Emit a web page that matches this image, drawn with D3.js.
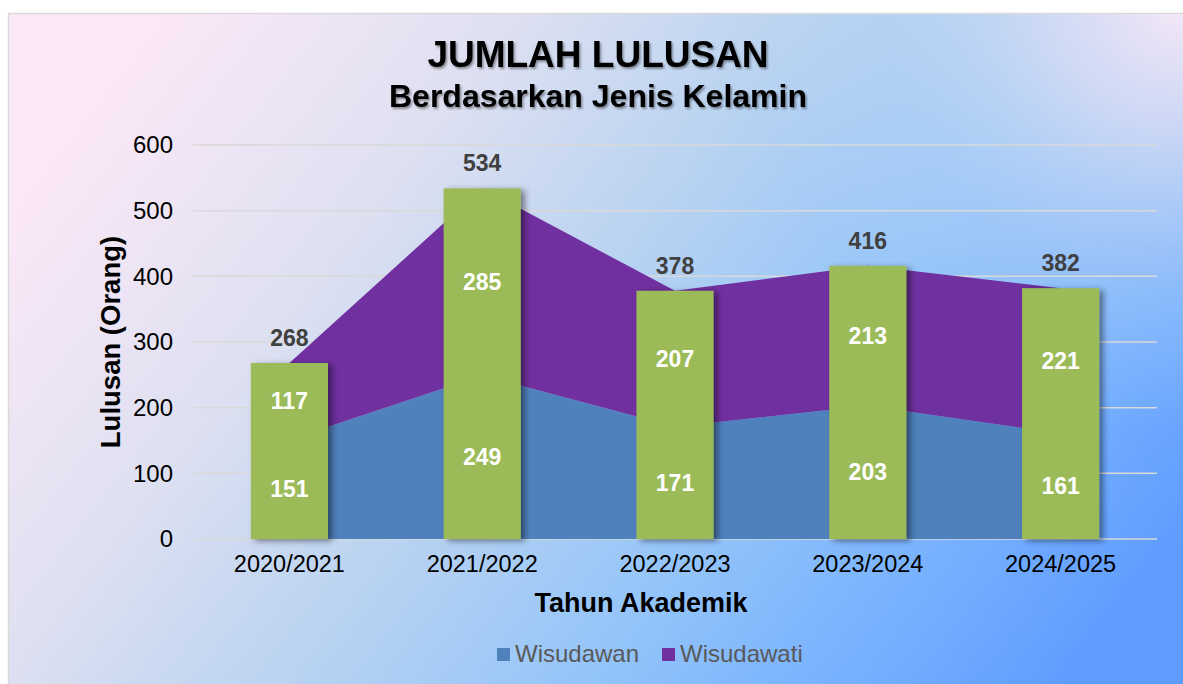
<!DOCTYPE html>
<html>
<head>
<meta charset="utf-8">
<script src="https://cdn.jsdelivr.net/npm/d3@7"></script>
<style>
  html, body { margin: 0; padding: 0; background: #fff; }
  svg { display: block; font-family: "Liberation Sans", Arial, sans-serif; }
</style>
</head>
<body>
<svg id="chart" width="1183" height="684"></svg>
<script>
const years = ["2020/2021", "2021/2022", "2022/2023", "2023/2024", "2024/2025"];
const wisudawan = [151, 249, 171, 203, 161];
const wisudawati = [117, 285, 207, 213, 221];
const totals = [268, 534, 378, 416, 382];
const yTicks = [0, 100, 200, 300, 400, 500, 600];
const seriesNames = ["Wisudawan", "Wisudawati"];
const seriesColors = ["#4f81bd", "#7030a0"];

const svg = d3.select("#chart");
const width = 1183;
const height = 684;
const margin = { top: 145, right: 26, bottom: 145, left: 193 };
const innerW = width - margin.left - margin.right;
const innerH = height - margin.top - margin.bottom;

const defs = svg.append("defs");

// background gradients
const bg = defs.append("linearGradient")
  .attr("id", "bg")
  .attr("x1", "0").attr("y1", "0.3")
  .attr("x2", "1").attr("y2", "0.75");
[["0", "#fbe8f7"], ["0.25", "#dde0f1"], ["0.45", "#b9d3f1"], ["0.65", "#95c5f9"], ["0.85", "#75b0ff"], ["1", "#5f9cff"]]
  .forEach(([o, c]) => bg.append("stop").attr("offset", o).attr("stop-color", c));

const corner = defs.append("radialGradient")
  .attr("id", "corner")
  .attr("gradientUnits", "userSpaceOnUse")
  .attr("cx", 1183).attr("cy", 0).attr("r", 430);
[["0", "#f7e8f7", 1], ["0.3", "#e3e1f3", 0.75], ["0.7", "#c8daf0", 0.25], ["1", "#c8daf0", 0]]
  .forEach(([o, c, a]) => corner.append("stop").attr("offset", o).attr("stop-color", c).attr("stop-opacity", a));

const barShadow = defs.append("filter").attr("id", "barShadow")
  .attr("x", "-20%").attr("y", "-10%").attr("width", "150%").attr("height", "120%");
barShadow.append("feDropShadow")
  .attr("dx", 4).attr("dy", 2).attr("stdDeviation", 3)
  .attr("flood-color", "#000").attr("flood-opacity", 0.45);

const textShadow = defs.append("filter").attr("id", "textShadow")
  .attr("x", "-5%").attr("y", "-20%").attr("width", "110%").attr("height", "150%");
textShadow.append("feDropShadow")
  .attr("dx", 1.5).attr("dy", 2).attr("stdDeviation", 1.2)
  .attr("flood-color", "#000").attr("flood-opacity", 0.4);

svg.append("rect")
  .attr("x", 8.5).attr("y", 13.5)
  .attr("width", width).attr("height", height)
  .attr("fill", "url(#bg)")
  .attr("stroke", "#d9d9d9").attr("stroke-width", 1.5);
svg.append("rect")
  .attr("x", 9).attr("y", 14)
  .attr("width", width).attr("height", height)
  .attr("fill", "url(#corner)");

const g = svg.append("g").attr("transform", `translate(${margin.left},${margin.top})`);

const x = d3.scaleBand().domain(years).range([0, innerW]).paddingInner(0).paddingOuter(0);
const y = d3.scaleLinear().domain([0, 600]).range([innerH, 0]);
const barW = x.bandwidth() * 0.4;
const cx = (d) => x(d) + x.bandwidth() / 2;

// gridlines
g.append("g")
  .selectAll("line")
  .data(yTicks)
  .enter()
  .append("line")
  .attr("x1", 0).attr("x2", innerW)
  .attr("y1", (d) => y(d)).attr("y2", (d) => y(d))
  .attr("stroke", "#d9d9d9")
  .attr("stroke-width", 1.5);

// stacked areas
const table = years.map((yr, i) => ({ year: yr, Wisudawan: wisudawan[i], Wisudawati: wisudawati[i] }));
const stacked = d3.stack().keys(seriesNames)(table);
const area = d3.area()
  .x((d) => cx(d.data.year))
  .y0((d) => y(d[0]))
  .y1((d) => y(d[1]));

g.append("g")
  .selectAll("path")
  .data(stacked)
  .enter()
  .append("path")
  .attr("d", area)
  .attr("fill", (d, i) => seriesColors[i]);

// total bars
g.append("g")
  .selectAll("rect")
  .data(years)
  .enter()
  .append("rect")
  .attr("x", (d) => cx(d) - barW / 2)
  .attr("y", (d, i) => y(totals[i]))
  .attr("width", barW)
  .attr("height", (d, i) => innerH - y(totals[i]))
  .attr("fill", "#9bbb59")
  .attr("filter", "url(#barShadow)");

// labels inside bars
const labelStyle = (sel) => sel
  .attr("text-anchor", "middle")
  .attr("dy", "0.35em")
  .style("font-size", "23px")
  .style("font-weight", "bold")
  .style("fill", "#fff");

g.append("g").selectAll("text")
  .data(years).enter().append("text")
  .attr("x", (d) => cx(d))
  .attr("y", (d, i) => y(wisudawan[i] / 2))
  .call(labelStyle)
  .text((d, i) => wisudawan[i]);

g.append("g").selectAll("text")
  .data(years).enter().append("text")
  .attr("x", (d) => cx(d))
  .attr("y", (d, i) => y(wisudawan[i] + wisudawati[i] / 2))
  .call(labelStyle)
  .text((d, i) => wisudawati[i]);

g.append("g").selectAll("text")
  .data(years).enter().append("text")
  .attr("x", (d) => cx(d))
  .attr("y", (d, i) => y(totals[i]) - 17)
  .attr("text-anchor", "middle")
  .style("font-size", "23px")
  .style("font-weight", "bold")
  .style("fill", "#404040")
  .text((d, i) => totals[i]);

// axes
const yAxis = g.append("g")
  .call(d3.axisLeft(y).tickValues(yTicks).tickSize(0).tickPadding(20));
yAxis.select(".domain").remove();
yAxis.selectAll("text")
  .style("font-size", "24px")
  .style("font-family", "Liberation Sans, Arial, sans-serif")
  .style("fill", "#000");

const xAxis = g.append("g")
  .attr("transform", `translate(0,${innerH})`)
  .call(d3.axisBottom(x).tickSize(0).tickPadding(16));
xAxis.select(".domain").remove();
xAxis.selectAll("text")
  .style("font-size", "23.5px")
  .style("font-family", "Liberation Sans, Arial, sans-serif")
  .style("fill", "#000");

g.append("text")
  .attr("x", innerW / 2 - 34)
  .attr("y", innerH + 73)
  .attr("text-anchor", "middle")
  .style("font-size", "27px")
  .style("font-weight", "bold")
  .style("fill", "#000")
  .text("Tahun Akademik");

g.append("text")
  .attr("transform", "rotate(-90)")
  .attr("x", -innerH / 2)
  .attr("y", -73)
  .attr("text-anchor", "middle")
  .style("font-size", "27.5px")
  .style("font-weight", "bold")
  .style("fill", "#000")
  .text("Lulusan (Orang)");

// titles
svg.append("text")
  .attr("x", 598).attr("y", 67)
  .attr("text-anchor", "middle")
  .attr("filter", "url(#textShadow)")
  .style("font-size", "37px")
  .style("font-weight", "bold")
  .style("fill", "#000")
  .text("JUMLAH LULUSAN");

svg.append("text")
  .attr("x", 598).attr("y", 107)
  .attr("text-anchor", "middle")
  .attr("filter", "url(#textShadow)")
  .style("font-size", "32px")
  .style("font-weight", "bold")
  .style("fill", "#000")
  .text("Berdasarkan Jenis Kelamin");

// legend
const legendX = [497, 662];
const legend = svg.append("g").selectAll("g")
  .data(seriesNames).enter().append("g")
  .attr("transform", (d, i) => `translate(${legendX[i]},648)`);
legend.append("rect")
  .attr("width", 13).attr("height", 13)
  .attr("fill", (d, i) => seriesColors[i]);
legend.append("text")
  .attr("x", 18).attr("y", 14)
  .style("font-size", "24px")
  .style("fill", "#595959")
  .text((d) => d);
</script>
</body>
</html>
